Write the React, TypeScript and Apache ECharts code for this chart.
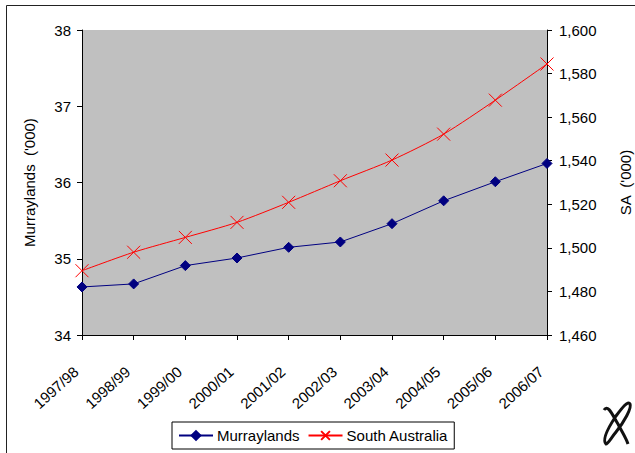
import { useEffect, useRef } from 'react'
import * as echarts from 'echarts'

const years = [
  '1997/98', '1998/99', '1999/00', '2000/01', '2001/02',
  '2002/03', '2003/04', '2004/05', '2005/06', '2006/07',
]
const murraylands = [34.63, 34.67, 34.91, 35.01, 35.15, 35.22, 35.46, 35.76, 36.01, 36.25]
const southAustralia = [1489.5, 1498.0, 1504.8, 1511.7, 1520.9, 1530.8, 1540.3, 1552.2, 1567.8, 1584.4]

const logoPath =
  'M4,44 C0,40 6,28 14,16 C20,8 26,0 28,4 C30,8 22,22 14,32 C9,38 6,44 4,44 Z ' +
  'M2,10 C6,4 10,14 16,24 C20,32 24,38 26,44'

echarts.graphic.registerShape('logo', echarts.graphic.extendPath(logoPath, {}) as any)

export default function App() {
  const chartRef = useRef<HTMLDivElement>(null)

  useEffect(() => {
    document.body.style.margin = '0'
    if (!chartRef.current) return
    const chart = echarts.init(chartRef.current, null, { renderer: 'svg' })
    const font = 'Liberation Sans, Arial, sans-serif'

    const option: any = {
      animation: false,
      textStyle: { fontFamily: font },
      grid: {
        left: 82,
        right: 88,
        top: 30,
        bottom: 118,
        outerBoundsMode: 'none',
        containLabel: false,
        show: true,
        backgroundColor: '#c0c0c0',
        borderWidth: 0,
      },
      xAxis: {
        type: 'category',
        data: years,
        boundaryGap: false,
        axisLine: { lineStyle: { color: '#000', width: 1 } },
        axisTick: { show: true, length: 5, alignWithLabel: true, lineStyle: { color: '#000' } },
        axisLabel: {
          rotate: 42,
          color: '#000',
          fontSize: 15,
          fontFamily: font,
          margin: 29,
          padding: [0, 8, 0, 0],
          interval: 0,
          hideOverlap: false,
        },
        splitLine: { show: false },
      },
      yAxis: [
        {
          type: 'value',
          min: 34,
          max: 38,
          interval: 1,
          name: "Murraylands  ('000)",
          nameLocation: 'middle',
          nameGap: 45,
          nameTextStyle: { color: '#000', fontSize: 15, fontFamily: font },
          axisLine: { show: true, lineStyle: { color: '#000', width: 1 } },
          axisTick: { show: true, length: 5, lineStyle: { color: '#000' } },
          axisLabel: { color: '#000', fontSize: 15, fontFamily: font, margin: 11 },
          splitLine: { show: false },
        },
        {
          type: 'value',
          min: 1460,
          max: 1600,
          interval: 20,
          position: 'right',
          name: "SA  ('000)",
          nameLocation: 'middle',
          nameGap: 71,
          nameRotate: 90,
          nameTextStyle: { color: '#000', fontSize: 15, fontFamily: font },
          axisLine: { show: true, lineStyle: { color: '#000', width: 1 } },
          axisTick: { show: true, length: 5, lineStyle: { color: '#000' } },
          axisLabel: {
            color: '#000',
            fontSize: 15,
            fontFamily: font,
            margin: 12,
            formatter: (v: number) => v.toLocaleString('en-US'),
          },
          splitLine: { show: false },
        },
      ],
      legend: {
        left: 172,
        top: 422,
        padding: [6, 6, 6, 6],
        itemGap: 8,
        itemWidth: 34,
        itemHeight: 11,
        borderColor: '#000',
        borderWidth: 1,
        backgroundColor: '#fff',
        borderRadius: 0,
        textStyle: { color: '#000', fontSize: 15, fontFamily: font, padding: [0, 0, 0, -1] },
        data: ['Murraylands', 'South Australia'],
      },
      series: [
        {
          name: 'Murraylands',
          type: 'line',
          yAxisIndex: 0,
          data: murraylands,
          symbol: 'diamond',
          symbolSize: 10,
          lineStyle: { color: '#000080', width: 1 },
          itemStyle: { color: '#000080', borderColor: '#000080', borderWidth: 1 },
        },
        {
          name: 'South Australia',
          type: 'line',
          yAxisIndex: 1,
          data: southAustralia,
          smooth: 0.25,
          symbol: 'path://M0,0L10,10M10,0L0,10',
          symbolSize: 13,
          lineStyle: { color: '#ff0000', width: 1 },
          itemStyle: { color: 'none', borderColor: '#ff0000', borderWidth: 1 },
        },
      ],
      graphic: [
        {
          type: 'rect',
          shape: { x: 6.5, y: 5.5, width: 700, height: 500 },
          style: { fill: 'none', stroke: '#222', lineWidth: 1 },
          silent: true,
          z: -1,
        },
        {
          type: 'logo',
          x: 602,
          y: 400,
          scaleX: 1,
          scaleY: 1,
          style: { fill: 'none', stroke: '#111', lineWidth: 3 },
          silent: true,
        },
      ],
    }

    chart.setOption(option)
    return () => chart.dispose()
  }, [])

  return <div ref={chartRef} style={{ width: 635, height: 453 }} />
}
